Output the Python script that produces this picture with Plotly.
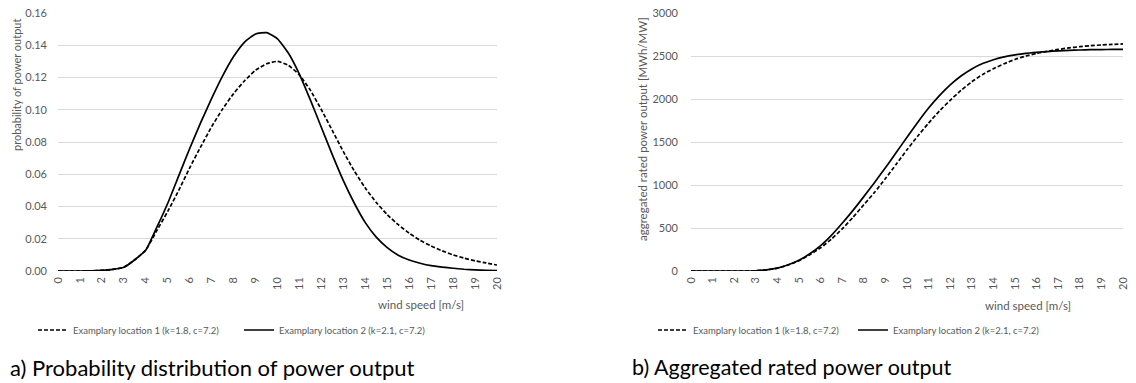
import plotly.graph_objects as go

W, H = 1136, 383

# ---- data ----
wind_speed = [i * 0.5 for i in range(41)]  # 0 .. 20 m/s

prob_loc1 = [0, 0, 0, 0.0001, 0.0004, 0.001, 0.0023, 0.007, 0.013, 0.025,
             0.037, 0.050, 0.064, 0.077, 0.0895, 0.1005, 0.110, 0.118, 0.1245, 0.1285,
             0.130, 0.1275, 0.1215, 0.112, 0.100, 0.087, 0.074, 0.062, 0.0515, 0.0425,
             0.035, 0.0287, 0.0235, 0.019, 0.0155, 0.0125, 0.010, 0.008, 0.0063, 0.005,
             0.0037]
prob_loc2 = [0, 0, 0, 0.0001, 0.0004, 0.001, 0.0023, 0.007, 0.013, 0.027,
             0.042, 0.059, 0.076, 0.092, 0.107, 0.121, 0.133, 0.142, 0.147, 0.1478,
             0.144, 0.135, 0.122, 0.106, 0.089, 0.072, 0.056, 0.042, 0.030, 0.021,
             0.0145, 0.0098, 0.0068, 0.0048, 0.0033, 0.0024, 0.0017, 0.0011, 0.0007, 0.0004,
             0.0002]

agg_loc1 = [0, 0, 0, 0, 0, 0, 3, 14, 33, 70,
            120, 190, 270, 370, 490, 625, 770, 915, 1075, 1240,
            1410, 1570, 1720, 1860, 1985, 2100, 2200, 2285, 2352, 2410,
            2460, 2500, 2530, 2555, 2576, 2594, 2608, 2620, 2628, 2635,
            2640]
agg_loc2 = [0, 0, 0, 0, 0, 0, 3, 14, 34, 72,
            125, 200, 295, 415, 555, 705, 865, 1030, 1200, 1378,
            1555, 1730, 1895, 2040, 2165, 2268, 2350, 2412, 2457, 2490,
            2513, 2530, 2542, 2552, 2560, 2566, 2570, 2573, 2575, 2576,
            2577]

name_loc1 = "Examplary location 1 (k=1.8, c=7.2)"
name_loc2 = "Examplary location 2 (k=2.1, c=7.2)"
x_ticks = list(range(0, 21))
left_y_ticks = [0.00, 0.02, 0.04, 0.06, 0.08, 0.10, 0.12, 0.14, 0.16]
right_y_ticks = [0, 500, 1000, 1500, 2000, 2500, 3000]

FONT = "Lato"
GRAY = "#595959"
GRID = "#d9d9d9"


def px(x):
    return x / W


def py(y):
    return 1 - y / H


fig = go.Figure()
dash = "4px,2px"
lw = 1.7
fig.add_trace(go.Scatter(x=wind_speed, y=prob_loc1, mode="lines", name=name_loc1,
                         line=dict(color="#000000", width=lw, dash=dash, shape="spline", smoothing=0.5),
                         xaxis="x", yaxis="y", legend="legend"))
fig.add_trace(go.Scatter(x=wind_speed, y=prob_loc2, mode="lines", name=name_loc2,
                         line=dict(color="#000000", width=lw, shape="spline", smoothing=0.5),
                         xaxis="x", yaxis="y", legend="legend"))
fig.add_trace(go.Scatter(x=wind_speed, y=agg_loc1, mode="lines", name=name_loc1,
                         line=dict(color="#000000", width=lw, dash=dash, shape="spline", smoothing=0.5),
                         xaxis="x2", yaxis="y2", legend="legend2"))
fig.add_trace(go.Scatter(x=wind_speed, y=agg_loc2, mode="lines", name=name_loc2,
                         line=dict(color="#000000", width=lw, shape="spline", smoothing=0.5),
                         xaxis="x2", yaxis="y2", legend="legend2"))

ydom = [py(271), py(13)]
xcommon = dict(range=[0, 20], tickmode="array", tickvals=x_ticks, ticktext=[str(t) for t in x_ticks],
               tickangle=-90, showgrid=False, zeroline=False, showline=False, ticks="",
               tickfont=dict(family=FONT, size=11, color=GRAY), automargin=False,
               ticklabelstandoff=3, fixedrange=True)
ycommon = dict(showgrid=True, gridcolor=GRID, gridwidth=1, zeroline=False, showline=False, ticks="",
               tickfont=dict(family=FONT, size=11, color=GRAY), automargin=False, fixedrange=True)

legend_common = dict(orientation="h", xanchor="left", yanchor="middle",
                     font=dict(family=FONT, size=9.5, color=GRAY), bgcolor="rgba(0,0,0,0)",
                     itemwidth=30, tracegroupgap=0, entrywidthmode="pixels")

fig.update_layout(
    width=W, height=H, margin=dict(l=0, r=0, t=0, b=0),
    paper_bgcolor="white", plot_bgcolor="white",
    xaxis=dict(domain=[px(58), px(497)], anchor="y", **xcommon),
    yaxis=dict(domain=ydom, anchor="x", range=[0, 0.16], tickvals=left_y_ticks,
               ticktext=[f"{v:.2f}" for v in left_y_ticks], ticklabelstandoff=10, **ycommon),
    xaxis2=dict(domain=[px(691), px(1123)], anchor="y2", **xcommon),
    yaxis2=dict(domain=ydom, anchor="x2", range=[0, 3000], tickvals=right_y_ticks,
                ticktext=[str(v) for v in right_y_ticks], ticklabelstandoff=12, **ycommon),
    legend=dict(x=px(33), y=py(330), entrywidth=161, **legend_common),
    legend2=dict(x=px(653), y=py(330), entrywidth=155, **legend_common),
    showlegend=True,
)

annots = [
    dict(text="probability of power output", x=px(16), y=py(85), textangle=-90,
         font=dict(family=FONT, size=11, color=GRAY)),
    dict(text="aggregated rated power output [MWh/MW]", x=px(642), y=py(129), textangle=-90,
         font=dict(family=FONT, size=11.5, color=GRAY)),
    dict(text="wind speed [m/s]", x=px(466), y=py(304), xanchor="right",
         font=dict(family=FONT, size=11.5, color=GRAY)),
    dict(text="wind speed [m/s]", x=px(1073), y=py(305), xanchor="right",
         font=dict(family=FONT, size=11.5, color=GRAY)),
    dict(text="a) Probability distribution of power output", x=px(8), y=py(367), xanchor="left",
         font=dict(family=FONT, size=22, color="#000000")),
    dict(text="b) Aggregated rated power output", x=px(630), y=py(367), xanchor="left",
         font=dict(family=FONT, size=21.5, color="#000000")),
]
for a in annots:
    a.setdefault("xanchor", "center")
    fig.add_annotation(xref="paper", yref="paper", yanchor="middle", showarrow=False, **a)

fig.write_html("out.html")
